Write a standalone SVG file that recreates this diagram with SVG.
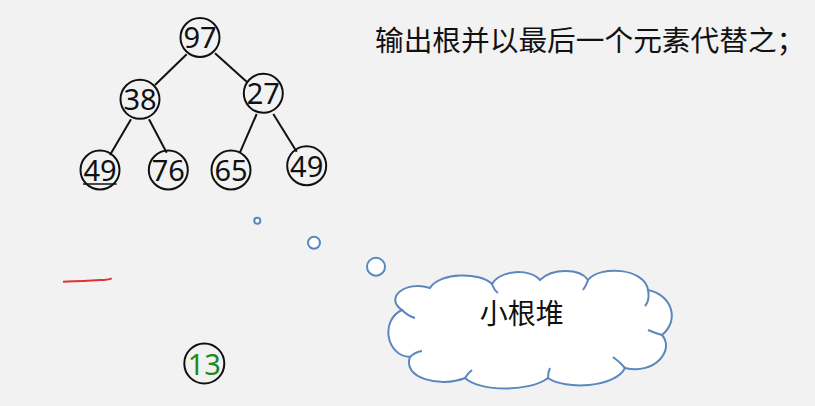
<svg xmlns="http://www.w3.org/2000/svg" width="815" height="406" viewBox="0 0 815 406">
<style>
.nd{fill:none;stroke:#111;stroke-width:2}
.num{font-family:"Noto Sans","Open Sans",sans-serif;font-size:29px;fill:#111;text-anchor:middle}
.edge{stroke:#111;stroke-width:2;fill:none}
.bub{fill:#fff;stroke:#5b87bf;stroke-width:2}
.cjk{font-family:"Noto Sans CJK SC","Noto Sans",sans-serif;fill:#111}
</style>
<rect width="815" height="406" fill="#f2f2f2"/>
<g id="connectors">
<line class="edge" x1="186.7" y1="54.3" x2="155" y2="85"/>
<line class="edge" x1="215" y1="53.3" x2="246.7" y2="81.7"/>
<line class="edge" x1="131" y1="119.3" x2="110" y2="155"/>
<line class="edge" x1="149" y1="119.3" x2="166.7" y2="152.7"/>
<line class="edge" x1="256.7" y1="114" x2="240" y2="152.3"/>
<line class="edge" x1="273.3" y1="114" x2="296.7" y2="151.7"/>
</g>
<g id="n97"><circle class="nd" cx="200" cy="37.5" r="19.5"/><text class="num" x="200" y="48">97</text></g>
<g id="n38"><circle class="nd" cx="140" cy="99.3" r="19.5"/><text class="num" x="140" y="110">38</text></g>
<g id="n27"><circle class="nd" cx="263.3" cy="93.3" r="19.5"/><text class="num" x="263.3" y="104">27</text></g>
<g id="n49a"><circle class="nd" cx="100" cy="170" r="19.5"/><text class="num" x="100" y="181">49</text><line x1="83" y1="184" x2="116.7" y2="184" stroke="#111" stroke-width="1.5"/></g>
<g id="n76"><circle class="nd" cx="168.3" cy="170" r="19.5"/><text class="num" x="168.3" y="181">76</text></g>
<g id="n65"><circle class="nd" cx="231" cy="170" r="19.5"/><text class="num" x="231" y="181">65</text></g>
<g id="n49b"><circle class="nd" cx="306.7" cy="165.7" r="19.5"/><text class="num" x="306.7" y="176.5">49</text></g>
<g id="n13"><circle class="nd" cx="204.3" cy="363.5" r="20"/><text class="num" x="204.3" y="375" style="fill:#1e8a1e">13</text></g>
<path id="redmark" d="M63 281.7 Q85 281 100 280 Q108 280 111.7 278.3" stroke="#d33" stroke-width="2" fill="none"/>
<text id="title" class="cjk" x="375" y="50.5" font-size="28.7">输出根并以最后一个元素代替之；</text>
<g id="bubbles">
<circle class="bub" cx="257.3" cy="220.7" r="3"/>
<circle class="bub" cx="314" cy="242.7" r="6"/>
<circle class="bub" cx="376" cy="266.7" r="9"/>
</g>
<g id="cloud">
<path class="bub" d="M402 310 C384 298 405 280 430 288 C440 272 480 272 492 284 C500 270 530 268 540 280 C552 268 580 268 588 280 C600 265 645 268 648 290 C672 295 680 320 662 335 C675 350 655 375 625 368 C615 388 565 390 548 378 C530 392 480 392 465 378 C440 388 402 378 410 357 C386 356 380 320 402 310 Z"/>
<path d="M410 357 Q415 352 422 351 M402 310 Q408 316 415 318 M492 284 Q494 290 498 293 M588 280 Q586 286 583 290 M648 290 Q650 300 645 306 M662 335 Q655 333 648 330 M625 368 Q620 362 613 357 M548 378 Q548 372 550 368 M465 378 Q468 373 472 370" fill="none" stroke="#5b87bf" stroke-width="2"/>
<text class="cjk" x="521.7" y="323.5" font-size="28" text-anchor="middle">小根堆</text>
</g>
</svg>
